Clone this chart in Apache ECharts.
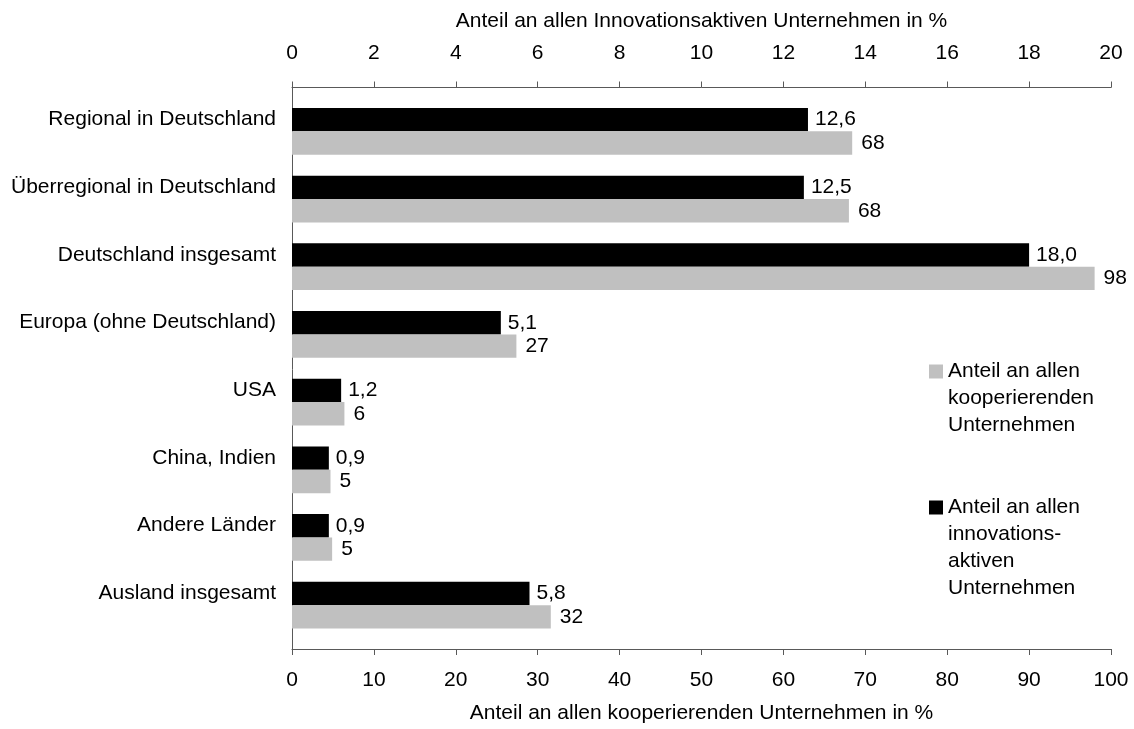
<!DOCTYPE html>
<html>
<head>
<meta charset="utf-8">
<script src="https://cdn.jsdelivr.net/npm/echarts@6/dist/echarts.min.js"></script>
<style>
  html, body { margin: 0; padding: 0; background: #fff; }
  #chart { width: 1134px; height: 729px; }
</style>
</head>
<body>
<div id="chart"></div>
<script>
// Kategorien von oben nach unten
const categories = [
    'Regional in Deutschland',
    'Überregional in Deutschland',
    'Deutschland insgesamt',
    'Europa (ohne Deutschland)',
    'USA',
    'China, Indien',
    'Andere Länder',
    'Ausland insgesamt'
];
// Anteil an allen innovationsaktiven Unternehmen (obere Achse, 0-20)
const innovValues = [12.6, 12.5, 18.0, 5.1, 1.2, 0.9, 0.9, 5.8];
// Anteil an allen kooperierenden Unternehmen (untere Achse, 0-100)
const koopValues = [68.4, 68.0, 98.0, 27.4, 6.4, 4.7, 4.9, 31.6];

const topTicks = [0, 2, 4, 6, 8, 10, 12, 14, 16, 18, 20];
const bottomTicks = [0, 10, 20, 30, 40, 50, 60, 70, 80, 90, 100];

const koopName = 'Anteil an allen\nkooperierenden\nUnternehmen';
const innovName = 'Anteil an allen\ninnovations-\naktiven\nUnternehmen';

const FONT = "'Liberation Sans', Arial, sans-serif";
const FS = 21;
const AXIS_COLOR = '#595959';

const chart = echarts.init(document.getElementById('chart'), null, { renderer: 'canvas' });

// Legendentext: erste Zeile auf Höhe des Symbols -> leere Zeilen davor
function legendText(name) {
    const n = name.split('\n').length;
    return '\n'.repeat(n - 1) + name;
}

const valueAxisCommon = {
    type: 'value',
    gridIndex: 0,
    offset: 10,
    splitLine: { show: false },
    axisLine: { show: true, lineStyle: { color: AXIS_COLOR, width: 1 } },
    axisTick: { show: true, inside: false, length: 6, lineStyle: { color: AXIS_COLOR } },
    nameLocation: 'middle',
    nameTextStyle: { color: '#000', fontSize: FS, fontFamily: FONT }
};

const legendCommon = {
    left: 929, padding: 0,
    itemWidth: 14, itemHeight: 14,
    icon: 'rect',
    selectedMode: false,
    formatter: legendText,
    textStyle: { color: '#000', fontSize: FS, fontFamily: FONT, lineHeight: 27 }
};

const option = {
    animation: false,
    backgroundColor: '#fff',
    textStyle: { fontFamily: FONT },
    grid: [
        { left: 292, right: 23, top: 97.5, bottom: 87 },
        { left: 292, right: 23, top: 87, bottom: 77 }
    ],
    legend: [
        Object.assign({}, legendCommon, { data: [koopName], top: 304 }),
        Object.assign({}, legendCommon, { data: [innovName], top: 413 })
    ],
    xAxis: [
        Object.assign({}, valueAxisCommon, {
            position: 'bottom',
            min: bottomTicks[0],
            max: bottomTicks[bottomTicks.length - 1],
            interval: bottomTicks[1] - bottomTicks[0],
            name: 'Anteil an allen kooperierenden Unternehmen in %',
            nameGap: 54,
            axisLabel: { color: '#000', fontSize: FS, fontFamily: FONT, margin: 21 }
        }),
        Object.assign({}, valueAxisCommon, {
            position: 'top',
            min: topTicks[0],
            max: topTicks[topTicks.length - 1],
            interval: topTicks[1] - topTicks[0],
            name: 'Anteil an allen Innovationsaktiven Unternehmen in %',
            nameGap: 56,
            axisLabel: { color: '#000', fontSize: FS, fontFamily: FONT, margin: 24 }
        }),
        { type: 'value', gridIndex: 1, show: false, min: 0, max: 1 }
    ],
    yAxis: [
        {
            type: 'category',
            gridIndex: 0,
            data: categories,
            inverse: true,
            axisLine: { show: false },
            axisTick: { show: false },
            axisLabel: {
                color: '#000', fontSize: FS, fontFamily: FONT, margin: 16,
                verticalAlign: 'bottom', lineHeight: 24
            }
        },
        {
            // durchgehende linke Achsenlinie
            type: 'value',
            gridIndex: 1,
            min: 0, max: 1,
            axisLine: { show: true, lineStyle: { color: AXIS_COLOR, width: 1 } },
            axisTick: { show: false },
            axisLabel: { show: false },
            splitLine: { show: false }
        }
    ],
    series: [
        {
            name: innovName,
            type: 'bar',
            xAxisIndex: 1,
            yAxisIndex: 0,
            data: innovValues,
            barGap: '0%',
            barCategoryGap: '31%',
            itemStyle: { color: '#000000' },
            label: {
                show: true,
                position: 'right',
                distance: 7,
                color: '#000',
                fontSize: FS,
                fontFamily: FONT,
                formatter: p => p.value.toFixed(1).replace('.', ',')
            }
        },
        {
            name: koopName,
            type: 'bar',
            xAxisIndex: 0,
            yAxisIndex: 0,
            data: koopValues,
            barGap: '0%',
            barCategoryGap: '31%',
            itemStyle: { color: '#C0C0C0' },
            label: {
                show: true,
                position: 'right',
                distance: 9,
                color: '#000',
                fontSize: FS,
                fontFamily: FONT,
                formatter: p => String(Math.round(p.value))
            }
        }
    ]
};

chart.setOption(option);
</script>
</body>
</html>
